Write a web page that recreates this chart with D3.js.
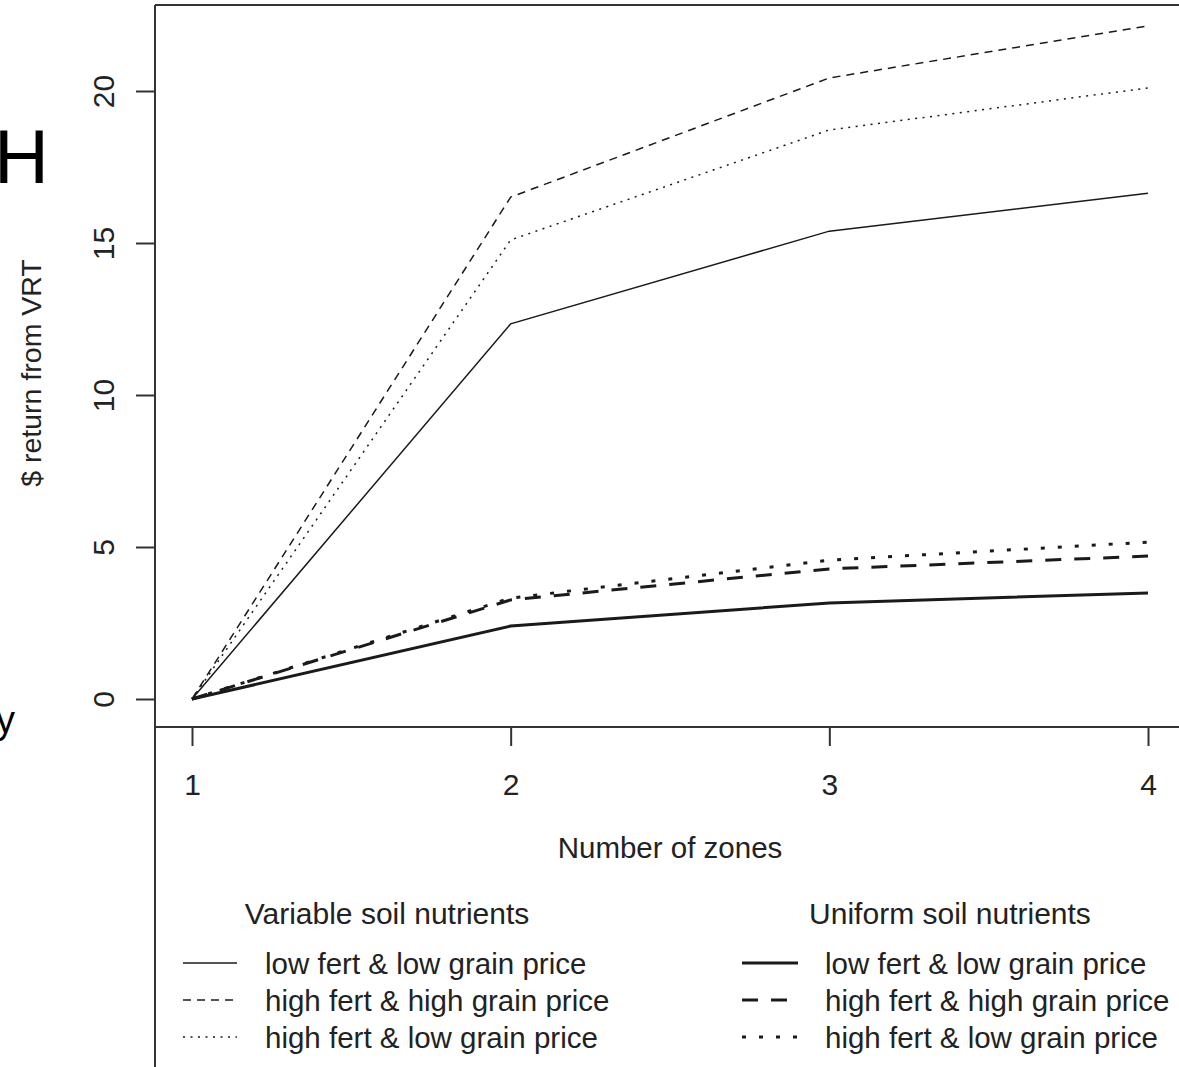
<!DOCTYPE html>
<html>
<head>
<meta charset="utf-8">
<script src="https://cdn.jsdelivr.net/npm/d3@7"></script>
<style>
  body { margin: 0; background: #fff; }
  svg { display: block; font-family: "Liberation Sans", Arial, sans-serif; }
</style>
</head>
<body>
<svg></svg>
<script>
// данные графика
const zones = [1, 2, 3, 4];
const yTicks = [0, 5, 10, 15, 20];

const varLowLow = [0, 12.34, 15.39, 16.64];
const varHighHigh = [0, 16.51, 20.43, 22.14];
const varHighLow = [0, 15.1, 18.72, 20.1];
const uniLowLow = [0, 2.4, 3.16, 3.49];
const uniHighHigh = [0, 3.26, 4.28, 4.7];
const uniHighLow = [0, 3.32, 4.57, 5.16];

const legendLabels = ["low fert & low grain price", "high fert & high grain price", "high fert & low grain price"];

const W = 1179, H = 1067;
const svg = d3.select("svg").attr("width", W).attr("height", H);

const x = d3.scaleLinear().domain([1, 4]).range([192, 1148]);
const y = d3.scaleLinear().domain([0, 20]).range([699, 91]);

const ink = "#1a1a1a";
const axisCol = "#333";
const txtCol = "#222";

// рамка: верх и левый край
svg.append("line").attr("x1", 155).attr("x2", W).attr("y1", 5).attr("y2", 5)
  .attr("stroke", axisCol).attr("stroke-width", 2);
svg.append("line").attr("x1", 155).attr("x2", 155).attr("y1", 5).attr("y2", H)
  .attr("stroke", axisCol).attr("stroke-width", 2);

// ось y
const yAxis = svg.append("g").attr("transform", "translate(155,0)")
  .call(d3.axisLeft(y).tickValues(yTicks).tickSize(19).tickPadding(0).tickFormat(d3.format("d")));
yAxis.select(".domain").remove();
yAxis.selectAll(".tick line").attr("stroke", axisCol).attr("stroke-width", 2);
yAxis.selectAll(".tick text")
  .attr("x", 0).attr("y", 0).attr("dy", null)
  .attr("transform", "translate(-41,0) rotate(-90)")
  .attr("text-anchor", "middle")
  .style("font-size", "30px").attr("fill", txtCol)
  .style("font-family", "'Liberation Sans', Arial, sans-serif");

// ось x
const xAxisG = svg.append("g").attr("transform", "translate(0,727)")
  .call(d3.axisBottom(x).tickValues(zones).tickSize(19).tickPadding(28).tickFormat(d3.format("d")));
xAxisG.select(".domain").remove();
svg.append("line").attr("x1", 155).attr("x2", W).attr("y1", 727).attr("y2", 727)
  .attr("stroke", axisCol).attr("stroke-width", 2);
xAxisG.selectAll(".tick line").attr("stroke", axisCol).attr("stroke-width", 2);
xAxisG.selectAll(".tick text").style("font-size", "30px").attr("fill", txtCol)
  .style("font-family", "'Liberation Sans', Arial, sans-serif");

// подписи осей
svg.append("text").attr("x", 670).attr("y", 858).attr("text-anchor", "middle")
  .style("font-size", "29.5px").attr("fill", txtCol).text("Number of zones");
svg.append("text").attr("transform", "translate(41,373) rotate(-90)").attr("text-anchor", "middle")
  .style("font-size", "28.5px").attr("fill", txtCol).text("$ return from VRT");

// обрывки соседнего текста
svg.append("text").attr("x", -6).attr("y", 183).style("font-size", "76px").attr("fill", "#000").text("H");
svg.append("text").attr("x", -4).attr("y", 733).style("font-size", "38px").attr("fill", "#000").text("y");

// линии
const series = [
  { v: varLowLow, w: 1.5, dash: null },
  { v: varHighHigh, w: 1.5, dash: "8,6" },
  { v: varHighLow, w: 1.5, dash: "2,5.5" },
  { v: uniLowLow, w: 3, dash: null },
  { v: uniHighHigh, w: 3, dash: "16,13" },
  { v: uniHighLow, w: 3, dash: "4,13" }
];
const line = d3.line().x((d, i) => x(zones[i])).y(d => y(d));
svg.append("g").selectAll("path").data(series).join("path")
  .attr("d", d => line(d.v))
  .attr("fill", "none").attr("stroke", ink)
  .attr("stroke-width", d => d.w)
  .attr("stroke-dasharray", d => d.dash);

// легенда
function legend(lineX1, lineX2, textX, title, titleX, list) {
  const g = svg.append("g");
  g.append("text").attr("x", titleX).attr("y", 924).attr("text-anchor", "middle")
    .style("font-size", "30px").attr("fill", txtCol).text(title);
  list.forEach((s, i) => {
    const yy = 963 + i * 37;
    g.append("line").attr("x1", lineX1).attr("x2", lineX2).attr("y1", yy).attr("y2", yy)
      .attr("stroke", ink).attr("stroke-width", s.w).attr("stroke-dasharray", s.dash);
    g.append("text").attr("x", textX).attr("y", yy + 11)
      .style("font-size", "29.5px").attr("fill", txtCol).text(legendLabels[i]);
  });
}
legend(183, 237, 265, "Variable soil nutrients", 387, series.slice(0, 3));
legend(742, 798, 825, "Uniform soil nutrients", 950, series.slice(3, 6));
</script>
</body>
</html>
